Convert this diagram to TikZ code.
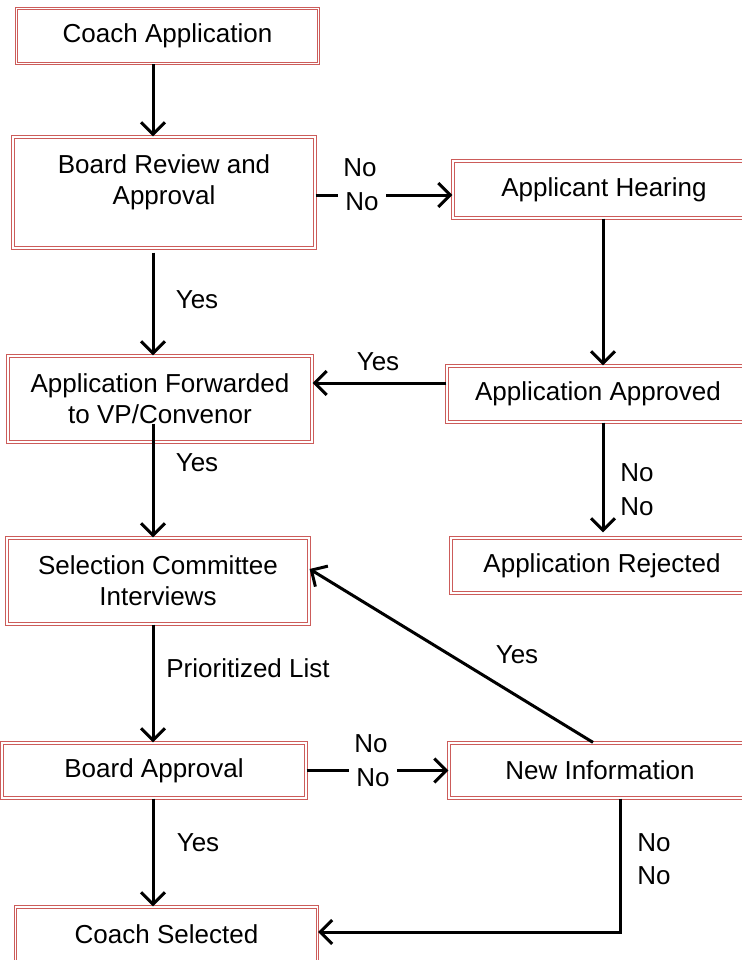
\documentclass[tikz,border=0pt]{standalone}
\usepackage{fontspec}
\setmainfont{Liberation Sans}
\usetikzlibrary{arrows.meta}
\definecolor{boxred}{RGB}{204,92,90}
\tikzstyle{stage}=[rectangle,draw=boxred,double=white,double distance=1.4pt,line width=1.2pt,fill=white,inner sep=0pt,minimum width=302pt,minimum height=55pt,align=center,font=\fontsize{26}{31}\selectfont]
\tikzstyle{words}=[inner sep=1pt,align=center,font=\fontsize{26}{31}\selectfont]
\tikzstyle{cut}=[words,fill=white,inner xsep=7pt]
\tikzstyle{link}=[line width=3pt,-{Straight Barb[length=12pt,width=24pt]}]

\begin{document}
\begin{tikzpicture}[x=1pt,y=-1pt]
			\useasboundingbox (0,0) rectangle (741,960);
			\coordinate (spine) at (153,0);
			\coordinate (rspine) at (603,0);
			\node (coach) at (167.5,36) [stage] {Coach Application};
			\node (review) at (164,192.5) [stage,minimum height=111pt] {};
			\node (reviewtext) at (164,182) [words] {Board Review and\\Approval};
			\node (hearing) at (604,189.5) [stage,minimum height=57pt] {Applicant Hearing};
			\node (fwd) at (160,399) [stage,minimum width=304pt,minimum height=86pt] {Application Forwarded\\to VP/Convenor};
			\node (approved) at (598,394) [stage,minimum height=56pt] {Application Approved};
			\node (rejected) at (602,565.5) [stage] {Application Rejected};
			\node (sel) at (158,581) [stage,minimum height=86pt] {Selection Committee\\Interviews};
			\node (board) at (154,770.5) [stage,minimum width=304pt] {Board Approval};
			\node (newinfo) at (600,770.5) [stage] {New Information};
			\node (selected) at (166.5,934.5) [stage] {Coach Selected};
			% connectors
			\draw [link] (coach.south -| spine) -- (review.north -| spine);
			\draw [link] (review.east) ++(0,2.5) coordinate (r1) -- (r1 -| hearing.west);
			\draw [link] ([yshift=-4pt]review.south -| spine) -- (fwd.north -| spine);
			\draw [link] (hearing.south -| rspine) -- (approved.north -| rspine);
			\draw [link] (approved.west) ++(0,-11) coordinate (a1) -- (a1 -| fwd.east);
			\draw [link] ([yshift=19pt]fwd.south -| spine) -- (sel.north -| spine);
			\draw [link] (approved.south -| rspine) -- ([yshift=5pt]rejected.north -| rspine);
			\draw [link] (sel.south -| spine) -- (board.north -| spine);
			\draw [link] (board.east) -- (newinfo.west);
			\draw [link] ([xshift=-7pt]newinfo.north) -- ([yshift=12pt]sel.east);
			\draw [link] ([xshift=20.5pt]newinfo.south) |- ([yshift=2.5pt]selected.east);
			\draw [link] (board.south -| spine) -- (selected.north -| spine);
			% labels
			\node (nohear) at (360,168) [words] {No};
			\node (nohearcut) at (362,202) [cut] {No};
			\node (yesreview) at (197,300) [words] {Yes};
			\node (yesappr) at (378,362) [words] {Yes};
			\node (yesfwd) at (197,463) [words] {Yes};
			\node (norej) at (637,473) [words] {No};
			\node (norejb) at (637,507) [words] {No};
			\node (prio) at (248,668) [words] {Prioritized List};
			\node (yesnew) at (517,655) [words] {Yes};
			\node (noboard) at (371,744) [words] {No};
			\node (noboardcut) at (373,778) [cut] {No};
			\node (yessel) at (198,843) [words] {Yes};
			\node (nonew) at (654,843) [words] {No};
			\node (nonewb) at (654,876) [words] {No};
		\end{tikzpicture}
\end{document}
